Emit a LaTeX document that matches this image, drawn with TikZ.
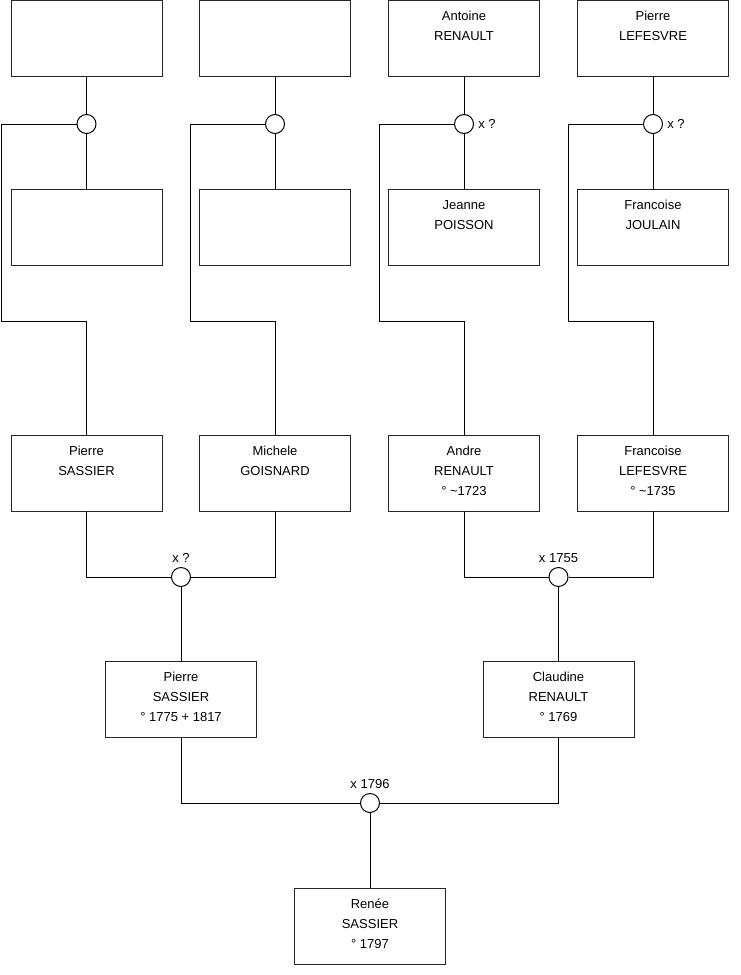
\documentclass[tikz,border=0pt]{standalone}
\usepackage{fontspec}
\setmainfont{Liberation Sans}
\usetikzlibrary{positioning}
\newcommand{\who}[1]{\parbox[c][57pt][t]{113.25pt}{\centering\vspace*{8.3pt}#1}}
\tikzset{
  person/.style={draw=black!85, line width=0.75pt, inner sep=0pt, fill=white,
    minimum width=113.25pt, minimum height=57pt},
  wed/.style={circle, draw, line width=0.75pt, fill=white, inner sep=0pt, minimum size=14.25pt},
  tie/.style={line width=0.75pt},
  xtag/.style={inner sep=3pt},
}
\begin{document}
\begin{tikzpicture}[x=0.75pt,y=-0.75pt, font=\fontsize{9.75pt}{15pt}\selectfont]
\useasboundingbox (0,0) rectangle (740,975);
% top two generations
\node[person] (gg1) at (86.5,38) {};
\node[person] (gg2) at (275,38) {};
\node[person] (gg3) at (464,38) {\who{Antoine\\RENAULT}};
\node[person] (gg4) at (653,38) {\who{Pierre\\LEFESVRE}};
\node[person] (gm1) at (86.5,227) {};
\node[person] (gm2) at (275,227) {};
\node[person] (gm3) at (464,227) {\who{Jeanne\\POISSON}};
\node[person] (gm4) at (653,227) {\who{Francoise\\JOULAIN}};
\node[wed] (w1) at (86.5,124) {};
\node[wed] (w2) at (275,124) {};
\node[wed, label={[xtag]right:x ?}] (w3) at (464,124) {};
\node[wed, label={[xtag]right:x ?}] (w4) at (653,124) {};
\coordinate (k1) at (1.5,321);
\coordinate (k2) at (190,321);
\coordinate (k3) at (379,321);
\coordinate (k4) at (568,321);
% grandparents
\node[person] (g1) at (86.5,473) {\who{Pierre\\SASSIER}};
\node[person] (g2) at (275,473) {\who{Michele\\GOISNARD}};
\node[person] (g3) at (464,473) {\who{Andre\\RENAULT\\° \textasciitilde{}1723}};
\node[person] (g4) at (653,473) {\who{Francoise\\LEFESVRE\\° \textasciitilde{}1735}};
\node[wed, label={[xtag]above:x ?}] (w5) at (181,577) {};
\node[wed, label={[xtag]above:x 1755}] (w6) at (558.5,577) {};
% parents and child
\node[person] (f1) at (181,699) {\who{Pierre\\SASSIER\\° 1775 + 1817}};
\node[person] (f2) at (558.5,699) {\who{Claudine\\RENAULT\\° 1769}};
\node[wed, label={[xtag]above:x 1796}] (w7) at (370,803) {};
\node[person] (ch) at (370,926) {\who{Renée\\SASSIER\\° 1797}};
% lines
\foreach \i in {1,...,4} {
  \draw[tie] (gg\i) -- (w\i) -- (gm\i);
  \draw[tie] (w\i.west) -| (k\i) -| (g\i.north);
}
\draw[tie] (g1.south) |- (w5.west);
\draw[tie] (g2.south) |- (w5.east);
\draw[tie] (g3.south) |- (w6.west);
\draw[tie] (g4.south) |- (w6.east);
\draw[tie] (w5) -- (f1);
\draw[tie] (w6) -- (f2);
\draw[tie] (f1.south) |- (w7.west);
\draw[tie] (f2.south) |- (w7.east);
\draw[tie] (w7) -- (ch);
\end{tikzpicture}
\end{document}
